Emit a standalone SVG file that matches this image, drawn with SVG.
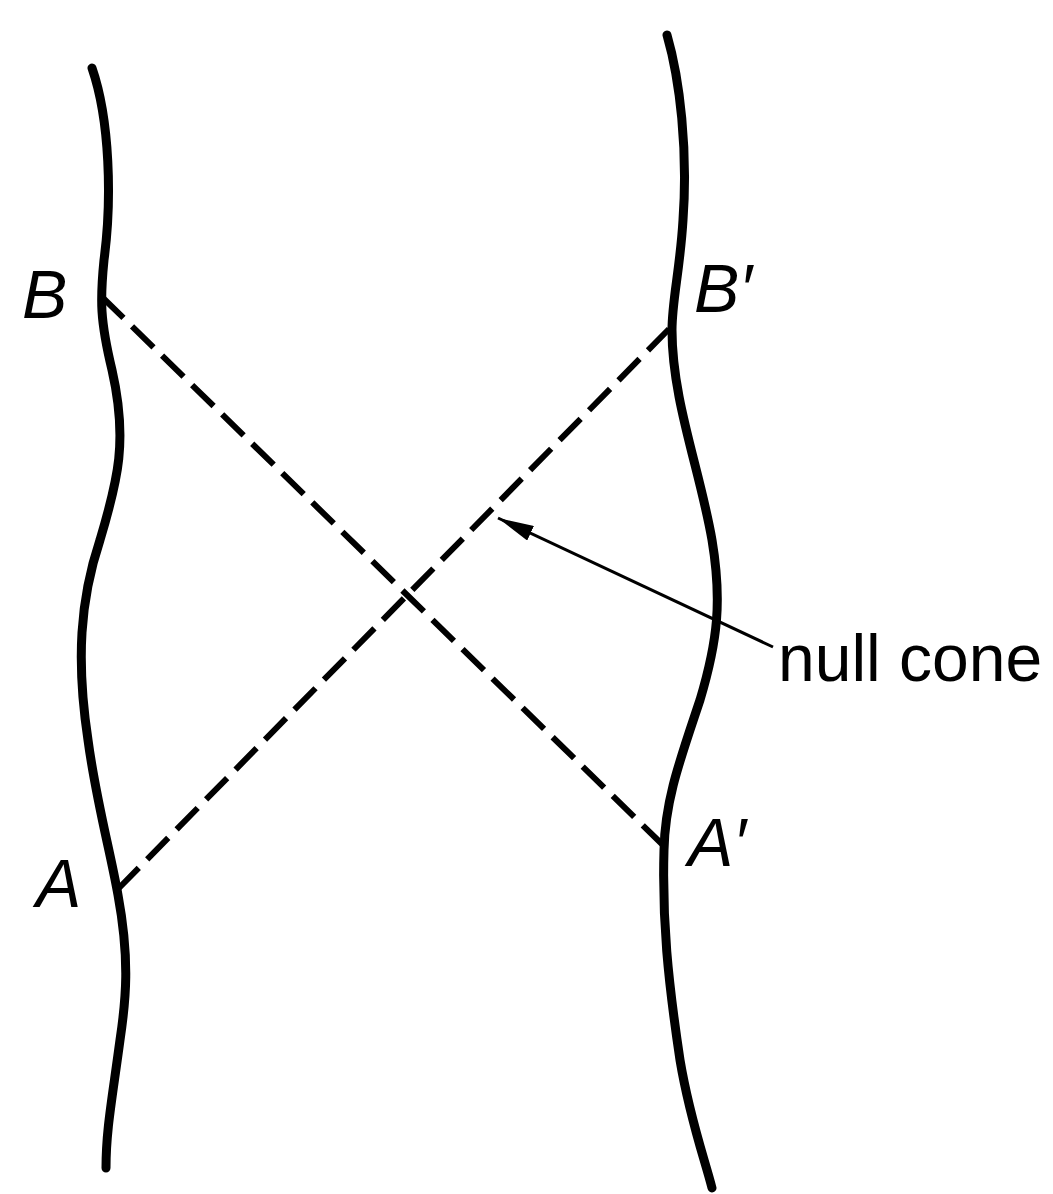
<svg xmlns="http://www.w3.org/2000/svg" width="1053" height="1194" viewBox="0 0 1053 1194">
<style>
.wl{fill:none;stroke:#000;stroke-width:9;stroke-linecap:round}
.nc{fill:none;stroke:#000;stroke-width:6;stroke-dasharray:30 12}
.lbl{font-family:"Liberation Sans",Arial,sans-serif;font-style:italic;font-size:68px;fill:#000}
.txt{font-family:"Liberation Sans",Arial,sans-serif;font-size:66px;fill:#000}
</style>
<defs>
<marker id="ah2" viewBox="0 0 36 16" refX="36" refY="8" markerWidth="36" markerHeight="16" markerUnits="userSpaceOnUse" orient="auto">
<path d="M0,0 L36,8 L0,16 z" fill="#000"/>
</marker>
</defs>
<rect width="1053" height="1194" fill="#fff"/>
<g id="worldline-left">
<path class="wl" d="M92,68 C110,120 112,200 104,260 C100,300 100,320 112,370 C128,440 118,480 100,540 C80,600 76,660 88,740 C96,800 110,850 118,895 C130,960 126,1000 120,1040 C112,1100 106,1130 106,1168"/>
</g>
<g id="worldline-right">
<path class="wl" d="M667,35 C680,80 688,150 683,220 C680,270 672,300 672,330 C672,400 700,470 712,540 C722,600 718,640 700,700 C680,760 665,800 664,850 C662,920 668,980 680,1060 C690,1120 705,1160 712,1188"/>
</g>
<g id="connectors">
<line class="nc" x1="102" y1="297" x2="666" y2="848"/>
<line class="nc" x1="669" y1="329" x2="119" y2="888"/>
<line x1="773" y1="647" x2="498" y2="518" stroke="#000" stroke-width="3" marker-end="url(#ah2)"/>
</g>
<g id="label-B"><text class="lbl" x="22" y="318">B</text></g>
<g id="label-Bp"><text class="lbl" x="694" y="312">B′</text></g>
<g id="label-A"><text class="lbl" x="36" y="907">A</text></g>
<g id="label-Ap"><text class="lbl" x="688" y="866">A′</text></g>
<g id="label-nullcone"><text class="txt" x="778" y="681">null cone</text></g>
</svg>
